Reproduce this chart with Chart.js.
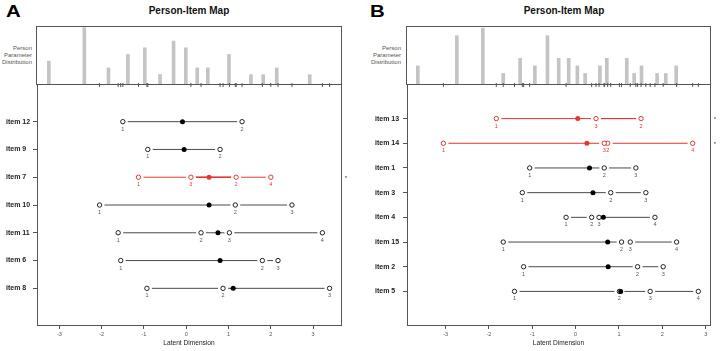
<!DOCTYPE html>
<html>
<head>
<meta charset="utf-8">
<script src="https://cdn.jsdelivr.net/npm/chart.js@4"></script>
<style>
  body { margin: 0; background: #fff; font-family: "Liberation Sans", Arial, sans-serif; }
  #page { position: relative; width: 721px; height: 351px; overflow: hidden; }
  .abs { position: absolute; }
  .letter { font-weight: bold; font-size: 17px; line-height: 17px; transform: scaleX(1.2); transform-origin: left top; color: #000; }
  .title { font-weight: bold; font-size: 10px; line-height: 10px; width: 200px; text-align: center; color: #111; }
  .ppd { font-size: 6px; line-height: 7px; width: 40px; text-align: right; color: #555; }
  .histbox { border: 1px solid #555; }
</style>
</head>
<body>
<div id="page">
  <div class="abs letter" style="left:6px;top:3px;">A</div>
  <div class="abs letter" style="left:370px;top:3px;">B</div>
  <div class="abs title" style="left:89px;top:6px;">Person-Item Map</div>
  <div class="abs title" style="left:464px;top:6px;">Person-Item Map</div>
  <div class="abs ppd" style="left:-8px;top:45px;">Person<br>Parameter<br>Distribution</div>
  <div class="abs ppd" style="left:361px;top:45px;">Person<br>Parameter<br>Distribution</div>

  <div class="abs histbox" style="left:36px;top:26px;width:304px;height:57px;">
    <canvas id="hist-a" width="304" height="57"></canvas>
  </div>
  <div class="abs histbox" style="left:406px;top:26px;width:303px;height:57px;">
    <canvas id="hist-b" width="303" height="57"></canvas>
  </div>
  <canvas id="map-a" class="abs" style="left:0;top:75px;" width="360" height="276"></canvas>
  <canvas id="map-b" class="abs" style="left:360px;top:75px;" width="361" height="276"></canvas>
</div>

<script>
const RED = "#e8362f";
const INK = "#4a4a4a";
const xTicks = [-3, -2, -1, 0, 1, 2, 3];

// Panel A
const itemsA = ["item 12", "item 9", "item 7", "item 10", "item 11", "item 6", "item 8"];
const thresholdsA = [
  [-1.5, 1.32],
  [-0.91, 0.8],
  [-1.13, 1.18, 0.11, 2.0],
  [-2.05, 1.16, 2.5],
  [-1.61, 0.35, 1.02, 3.22],
  [-1.55, 1.8, 2.17],
  [-0.93, 0.87, 3.39],
];
const locationsA = [-0.09, -0.05, 0.54, 0.54, 0.75, 0.8, 1.11];
const misfitA = [false, false, true, false, false, false, false];
const personThetaA = [-3.25, -2.41, -1.84, -1.38, -0.98, -0.62, -0.3, -0.01, 0.26, 0.51, 1.01, 1.53, 1.82, 2.14, 2.92];
const personCountA = [3, 8, 2, 4, 5, 1, 6, 5, 2, 2, 4, 1, 1, 2, 1];

// Panel B
const itemsB = ["item 13", "item 14", "item 1", "item 3", "item 4", "item 15", "item 2", "item 5"];
const thresholdsB = [
  [-1.83, 1.51, 0.47],
  [-3.05, 0.74, 0.66, 2.7],
  [-1.06, 0.66, 1.39],
  [-1.23, 0.81, 1.62],
  [-0.22, 0.37, 0.54, 1.83],
  [-1.67, 1.06, 1.26, 2.33],
  [-1.2, 1.43, 2.02],
  [-1.41, 1.01, 1.72, 2.83],
];
const locationsB = [0.05, 0.26, 0.32, 0.4, 0.64, 0.74, 0.75, 1.04];
const misfitB = [true, true, false, false, false, false, false, false];
const personThetaB = [-3.64, -2.74, -2.14, -1.67, -1.28, -0.94, -0.65, -0.39, -0.16, 0.04, 0.22, 0.56, 0.72, 1.18, 1.35, 1.52, 1.88, 2.08, 2.32];
const personCountB = [2, 6, 7, 1, 3, 2, 6, 3, 3, 2, 1, 2, 3, 3, 1, 2, 1, 1, 2];

const FONT = '"Liberation Sans", Arial, sans-serif';

/**
 * Threshold numbers under the open circles, and the misfit asterisks
 */
const pimapLabels = {
  id: "pimapLabels",
  afterDatasetsDraw(chart, args, opts) {
    const ctx = chart.ctx;
    ctx.save();
    ctx.font = `5.5px ${FONT}`;
    ctx.textAlign = "center";
    ctx.textBaseline = "middle";
    chart.data.datasets.forEach((ds, di) => {
      if (!ds.thresholdLabels) return;
      chart.getDatasetMeta(di).data.forEach((pt, j) => {
        ctx.fillStyle = ds.data[j].red ? RED : "#555";
        ctx.fillText(String(ds.data[j].n), pt.x, pt.y + 7.5);
      });
    });
    ctx.font = `6px ${FONT}`;
    ctx.fillStyle = "#333";
    opts.misfit.forEach((m, i) => {
      if (m) ctx.fillText("*", chart.chartArea.right + 5, chart.scales.y.getPixelForValue(i + 1) + 1);
    });
    ctx.restore();
  },
};

function drawHistogram(id, thetas, counts, xMin, xMax, yMax) {
  new Chart(document.getElementById(id), {
    type: "bar",
    data: {
      datasets: [{
        data: thetas.map((t, i) => ({ x: t, y: counts[i] })),
        backgroundColor: "#c4c4c4",
        barThickness: 3,
        base: -0.4,
      }],
    },
    options: {
      responsive: false,
      animation: false,
      events: [],
      plugins: { legend: { display: false }, tooltip: { enabled: false } },
      scales: {
        x: { type: "linear", min: xMin, max: xMax, display: false, offset: false },
        y: { min: -0.4, max: yMax, display: false },
      },
    },
  });
}

function drawMap(id, items, thresholds, locations, misfit, opt) {
  const datasets = [];
  thresholds.forEach((ths, i) => {
    datasets.push({
      data: ths.map((t) => ({ x: t, y: i + 1 })),
      showLine: true,
      borderColor: misfit[i] ? RED : INK,
      borderWidth: 1,
      pointRadius: 0,
      order: 3,
    });
  });

  const points = [];
  thresholds.forEach((ths, i) => {
    ths.forEach((t, k) => points.push({ x: t, y: i + 1, n: k + 1, red: misfit[i] }));
  });

  // white halo to break the line around each threshold
  datasets.push({ data: points, pointRadius: 5, pointBackgroundColor: "#fff", pointBorderWidth: 0, order: 2 });
  datasets.push({
    data: points,
    thresholdLabels: true,
    pointRadius: 2.2,
    pointBorderWidth: 1,
    pointBackgroundColor: "#fff",
    pointBorderColor: points.map((p) => (p.red ? RED : "#222")),
    order: 1,
  });
  datasets.push({
    data: locations.map((l, i) => ({ x: l, y: i + 1 })),
    pointRadius: 2.5,
    pointBorderWidth: 0,
    pointBackgroundColor: locations.map((_, i) => (misfit[i] ? RED : "#000")),
    order: 0,
  });
  // threshold rug along the top edge
  datasets.push({
    data: points.map((p) => ({ x: p.x, y: opt.yMin })),
    pointStyle: "line",
    pointRotation: 90,
    pointRadius: 2,
    pointBorderWidth: 1,
    pointBorderColor: "#555",
    clip: false,
    order: 4,
  });

  new Chart(document.getElementById(id), {
    type: "scatter",
    data: { datasets },
    plugins: [pimapLabels],
    options: {
      responsive: false,
      animation: false,
      events: [],
      layout: { padding: { left: opt.padLeft, right: opt.padRight, top: 10, bottom: 0 } },
      plugins: {
        legend: { display: false },
        tooltip: { enabled: false },
        pimapLabels: { misfit },
      },
      scales: {
        x: {
          type: "linear",
          min: opt.xMin,
          max: opt.xMax,
          afterBuildTicks: (s) => { s.ticks = xTicks.map((v) => ({ value: v })); },
          afterFit: (s) => { s.height = 26; },
          ticks: { font: { size: 5.5, family: FONT }, color: "#555", padding: 2, maxRotation: 0 },
          grid: { drawOnChartArea: false, tickLength: 4, tickColor: "#555" },
          border: { color: "#555" },
          title: {
            display: true,
            text: "Latent Dimension",
            font: { size: 6.6, family: FONT },
            color: "#222",
            padding: { top: 0, bottom: 4 },
          },
        },
        y: {
          type: "linear",
          reverse: true,
          min: opt.yMin,
          max: opt.yMax,
          afterBuildTicks: (s) => { s.ticks = items.map((_, i) => ({ value: i + 1 })); },
          afterFit: (s) => { s.width = opt.axisWidth; },
          ticks: {
            callback: (v) => items[v - 1],
            font: { size: 7, weight: "bold", family: FONT },
            color: "#222",
            crossAlign: "far",
            autoSkip: false,
          },
          grid: { drawOnChartArea: false, tickLength: 4, tickColor: "#555" },
          border: { color: "#555" },
        },
        y2: {
          position: "right",
          ticks: { display: false },
          grid: { display: false },
          border: { display: true, color: "#555" },
          afterFit: (s) => { s.width = 0; },
        },
      },
    },
  });
}

drawHistogram("hist-a", personThetaA, personCountA, -3.53, 3.66, 8.1);
drawHistogram("hist-b", personThetaB, personCountB, -3.89, 3.1, 7.15);

drawMap("map-a", itemsA, thresholdsA, locationsA, misfitA, {
  xMin: -3.53, xMax: 3.66, yMin: -0.32, yMax: 8.32, padLeft: 6, padRight: 19, axisWidth: 31,
});
drawMap("map-b", itemsB, thresholdsB, locationsB, misfitB, {
  xMin: -3.89, xMax: 3.1, yMin: -0.36, yMax: 9.36, padLeft: 15, padRight: 11, axisWidth: 32,
});
</script>
</body>
</html>
